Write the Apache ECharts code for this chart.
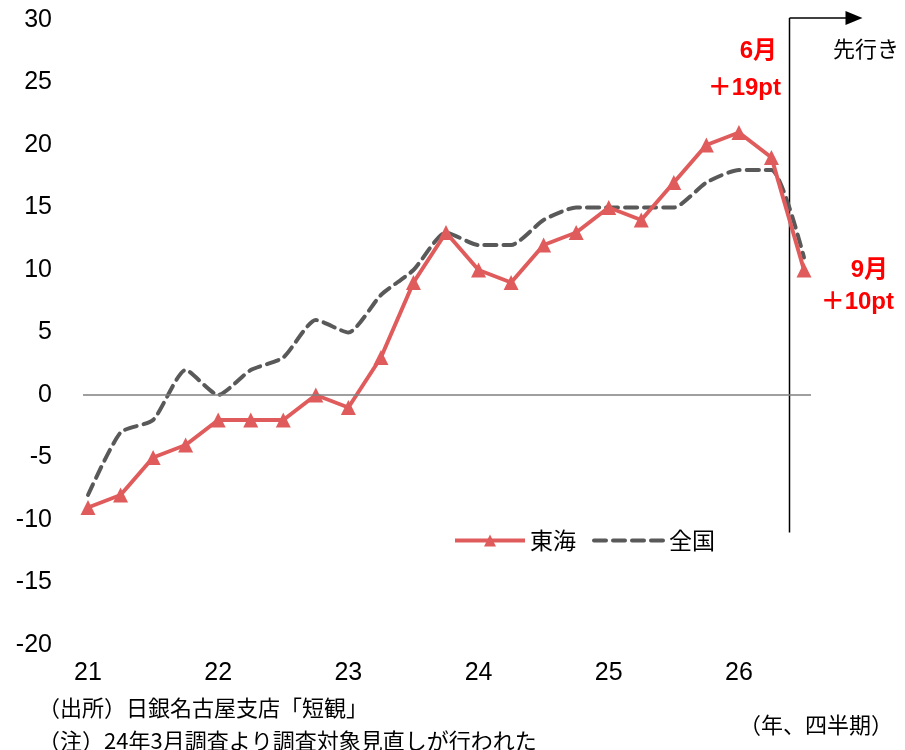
<!DOCTYPE html>
<html><head><meta charset="utf-8">
<script src="https://cdn.jsdelivr.net/npm/echarts@6/dist/echarts.min.js"></script>
<style>html,body{margin:0;padding:0;background:#fff}#c{width:905px;height:750px}</style>
</head><body><div id="c"></div>
<script>
// quarters from 2021/3 to 2026/9 (last = forecast)
const quarters = ['21/3','21/6','21/9','21/12','22/3','22/6','22/9','22/12','23/3','23/6','23/9','23/12','24/3','24/6','24/9','24/12','25/3','25/6','25/9','25/12','26/3','26/6','26/9'];
const tokai  = [-9,-8,-5,-4,-2,-2,-2,0,-1,3,9,13,10,9,12,13,15,14,17,20,21,19,10];
const zenkoku = [-8,-3,-2,2,0,2,3,6,5,8,10,13,12,12,14,15,15,15,15,17,18,18,11];
const tickPos = [0,4,8,12,16,20];
const tickLabels = ['21','22','23','24','25','26'];

const FONT = 'Liberation Sans, Arial, "Noto Sans CJK JP", sans-serif';
const JP = '"Noto Sans CJK JP", sans-serif';
const chart = echarts.init(document.getElementById('c'), null, {renderer:'canvas'});
const toPairs = arr => arr.map((v,i)=>[i,v]);
chart.setOption({
  animation:false,
  grid:{left:83,right:94,top:20,bottom:105,containLabel:false},
  xAxis:{type:'value',min:-0.154,max:22.215,
    axisLine:{show:false},axisTick:{show:false},splitLine:{show:false},
    axisLabel:{customValues:tickPos,formatter:v=>tickLabels[tickPos.indexOf(v)] ?? '',
      fontSize:25,color:'#000',fontFamily:FONT,margin:16}},
  yAxis:{type:'value',min:-20,max:30,interval:5,
    axisLine:{show:false},axisTick:{show:false},splitLine:{show:false},
    axisLabel:{fontSize:25,color:'#000',fontFamily:FONT,margin:31}},
  legend:{left:448,top:524,itemWidth:70,itemHeight:15,itemGap:16,
    textStyle:{fontSize:23,color:'#000',fontFamily:JP},
    lineStyle:{width:4},
    data:[{name:'東海'},{name:'全国',itemStyle:{opacity:0}}]},
  series:[
    {name:'全国',type:'line',data:toPairs(zenkoku),smooth:0.2,symbol:'none',
     lineStyle:{color:'#595959',width:4,type:[12,7],cap:'round'},itemStyle:{color:'#595959'},z:2,
     markLine:{silent:true,symbol:'none',label:{show:false},lineStyle:{color:'#7f7f7f',width:1.5,type:'solid'},data:[{yAxis:0}]}},
    {name:'東海',type:'line',data:toPairs(tokai),symbol:'triangle',symbolSize:15,
     lineStyle:{color:'#E05C5C',width:4},itemStyle:{color:'#E05C5C'},z:3}
  ]
});
const p1 = chart.convertToPixel({gridIndex:0},[21.54,30]);
const p2 = chart.convertToPixel({gridIndex:0},[21.54,-11]);
const xv = Math.round(p1[0])+0.5, yTop = p1[1]-2;
chart.setOption({graphic:[
  {type:'line',shape:{x1:xv,y1:yTop,x2:xv,y2:p2[1]},style:{stroke:'#000',lineWidth:1.5}},
  {type:'line',shape:{x1:xv,y1:yTop,x2:xv+58,y2:yTop},style:{stroke:'#000',lineWidth:1.5}},
  {type:'polygon',shape:{points:[[xv+56,yTop-7],[xv+73,yTop],[xv+56,yTop+7]]},style:{fill:'#000'}},
  {type:'text',left:833,top:38,style:{text:'先行き',font:'22px '+JP,fill:'#000'}},
  {type:'text',right:905-777,top:39,style:{text:'6月',font:'bold 24px '+FONT,fill:'#ff0000'}},
  {type:'text',right:905-781,top:76,style:{text:'＋19pt',font:'bold 24px '+FONT,fill:'#ff0000'}},
  {type:'text',right:905-888,top:258,style:{text:'9月',font:'bold 24px '+FONT,fill:'#ff0000'}},
  {type:'text',right:905-894,top:290,style:{text:'＋10pt',font:'bold 24px '+FONT,fill:'#ff0000'}},
  {type:'text',left:38,top:697,style:{text:'（出所）日銀名古屋支店「短観」',font:'22px '+JP,fill:'#000'}},
  {type:'text',left:38,top:730,style:{text:'（注）24年3月調査より調査対象見直しが行われた',font:'22px '+JP,fill:'#000'}},
  {type:'text',left:739,top:714,style:{text:'（年、四半期）',font:'22px '+JP,fill:'#000'}}
]});
</script></body></html>
